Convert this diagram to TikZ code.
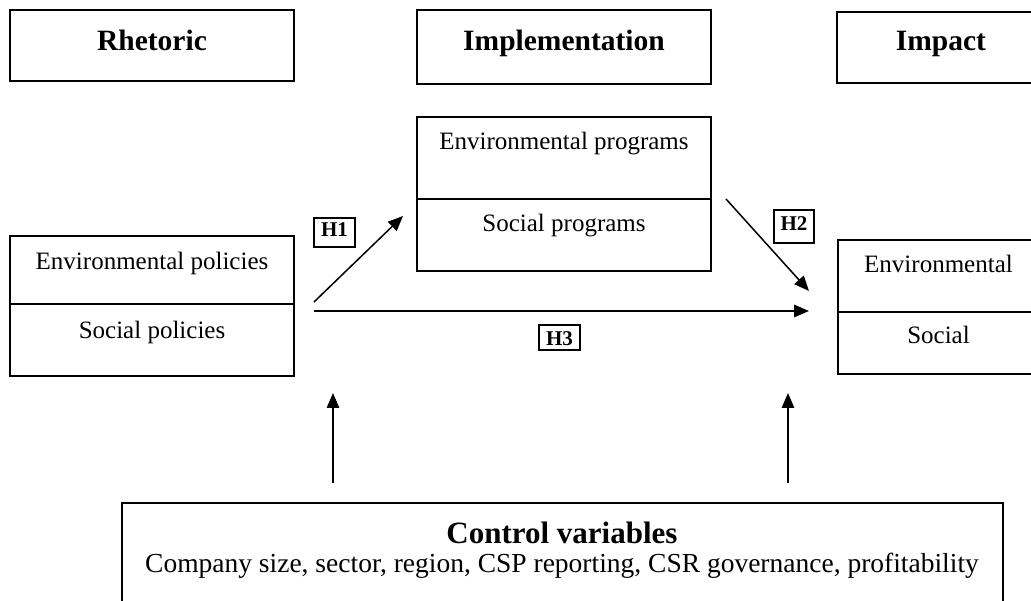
\documentclass[tikz,border=0pt]{standalone}
\usepackage{fontspec}
\setmainfont{Liberation Serif}
\usetikzlibrary{arrows.meta,fit}
\begin{document}
\begin{tikzpicture}[x=1pt,y=-1pt,
  box/.style={draw,line width=1.6pt,inner sep=0pt,outer sep=0pt},
  hbox/.style={draw,line width=1.4pt,inner sep=0pt,outer sep=0pt},
  head/.style={font=\fontsize{29.5}{34}\selectfont\bfseries,anchor=base,inner sep=0pt},
  body/.style={font=\fontsize{25}{30}\selectfont,anchor=base,inner sep=0pt},
  ctrl/.style={font=\fontsize{27.5}{32}\selectfont,anchor=base,inner sep=0pt},
  ctrlhead/.style={font=\fontsize{31}{36}\selectfont\bfseries,anchor=base,inner sep=0pt},
  hlab/.style={font=\fontsize{21}{24}\selectfont\bfseries,anchor=base,inner sep=0pt},
  conn/.style={line width=1.5pt,-{Triangle[length=15pt,width=12.5pt]}}]
\useasboundingbox (0,0) rectangle (1031,601);
\clip (0,0) rectangle (1031,601);
% header boxes
\node[box,fit={(10,10)(294,81)}] (rhetbox) {};
\node[box,fit={(417,10)(711,84)}] (implbox) {};
\node[box,fit={(837,12)(1045,83)}] (impbox) {};
\node[head] (rhet) at (152,51) {Rhetoric};
\node[head] (impl) at (564,51) {Implementation};
\node[head] (imp) at (941,51) {Impact};
% policies
\node[box,fit={(10,236)(294,304)}] (polup) {};
\node[box,fit={(10,304)(294,376)}] (pollo) {};
\node[body] (envpol) at (152,270) {Environmental policies};
\node[body] (socpol) at (152,339) {Social policies};
% programs
\node[box,fit={(417,117)(711,199)}] (progup) {};
\node[box,fit={(417,199)(711,271)}] (proglo) {};
\node[body] (envprog) at (564,150) {Environmental programs};
\node[body] (socprog) at (564,232) {Social programs};
% impact
\node[box,fit={(838,240)(1039,312)}] (impup) {};
\node[box,fit={(838,312)(1039,374)}] (implo) {};
\node[body] (envimp) at (938.5,273) {Environmental};
\node[body] (socimp) at (938.5,344) {Social};
% control variables
\node[box,fit={(122,503)(1003,640)}] (ctrlbox) {};
\node[ctrlhead] (ctrlt) at (562,543) {Control variables};
\node[ctrl] (ctrll) at (562,572) {Company size, sector, region, CSP reporting, CSR governance, profitability};
% hypothesis labels
\node[hbox,fit={(314,218)(355,247)}] (h1box) {};
\node[hlab] (h1) at (334.5,237) {H1};
\node[hbox,fit={(774,210)(814,243)}] (h2box) {};
\node[hlab] (h2) at (794,231) {H2};
\node[hbox,fit={(539,325)(580,350)}] (h3box) {};
\node[hlab] (h3) at (559.5,346) {H3};
% connector end points
\coordinate (h1s) at (314,302);
\coordinate (h1e) at (403,216);
\coordinate (h3s) at (314,311);
\coordinate (h3e) at (809,311);
\coordinate (h2s) at (726,199);
\coordinate (h2e) at (809,291);
\coordinate (c1s) at (333,483);
\coordinate (c1e) at (333,393);
\coordinate (c2s) at (788,483);
\coordinate (c2e) at (788,393);
\draw[conn] (h1s) -- (h1e);
\draw[conn] (h3s) -- (h3e);
\draw[conn] (h2s) -- (h2e);
\draw[conn] (c1s) -- (c1e);
\draw[conn] (c2s) -- (c2e);
\end{tikzpicture}
\end{document}
